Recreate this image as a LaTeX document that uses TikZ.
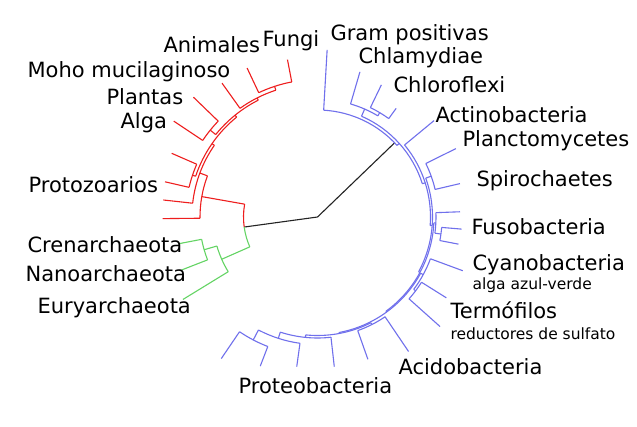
\documentclass[tikz,border=0pt]{standalone}
\usepackage{fontspec}
\setmainfont{DejaVu Sans}
\definecolor{tred}{RGB}{238,30,30}
\definecolor{tgreen}{RGB}{100,212,100}
\definecolor{tblue}{RGB}{112,112,236}
\definecolor{tblack}{RGB}{35,35,35}
% leaf: name, angle, base radius, tip radius
\newcommand\tleaf[4]{\coordinate (#1-b) at (#2:#3pt); \coordinate (#1) at (#2:#4pt); \draw (#1-b) -- (#1);}
% arc: angle1, angle2, radius
\newcommand\tarc[3]{\draw (#1:#3pt) arc[start angle=#1, end angle=#2, radius=#3pt];}
% stem: name, angle, inner radius, outer radius
\newcommand\tstem[4]{\coordinate (#1-s) at (#2:#3pt); \coordinate (#1) at (#2:#4pt); \draw (#1-s) -- (#1);}
\begin{document}
\begin{tikzpicture}[x=1pt,y=1pt, line width=1.1pt,
  lab/.style={anchor=base west, inner sep=0pt, font=\fontsize{21}{21}\selectfont},
  sub/.style={anchor=base west, inner sep=0pt, font=\fontsize{15.5}{15.5}\selectfont}]
\useasboundingbox (0,-426) rectangle (637,0);
\fill[white] (0,-426) rectangle (637,0);
\begin{scope}[shift={(317.5,-217)}]
  % root
  \coordinate (root) at (0,0);
  \begin{scope}[color=tblack]
    \coordinate (rootL) at (187.8:74pt);
    \coordinate (rootB) at (43.9:107pt);
    \draw (root) -- (rootL);
    \draw (root) -- (rootB);
  \end{scope}
  % eukaryotes (red)
  \begin{scope}[color=tred]
    \tarc{170}{187.8}{74}
    \tstem{E}{170}{74}{117.5}
    \tarc{159.5}{180.6}{117.5}
    \tleaf{d}{180.6}{117.5}{154.8}
    \tstem{E2}{159.5}{117.5}{125.6}
    \tarc{145.2}{173.7}{125.6}
    \tleaf{c}{173.7}{125.6}{155.1}
    \tstem{E3}{145.2}{125.6}{128.5}
    \tarc{129}{161.5}{128.5}
    \tstem{AB}{161.5}{128.5}{131.8}
    \tarc{156.4}{167}{131.8}
    \tleaf{a}{156.4}{131.8}{159.1}
    \tleaf{b}{167}{131.8}{156.5}
    \tstem{U}{129}{128.5}{131}
    \tarc{116.9}{141}{131}
    \tstem{PA}{141}{131}{138}
    \tarc{136}{146.3}{138}
    \tleaf{plantas}{136}{138}{172.5}
    \tleaf{alga}{146.3}{138}{172.8}
    \tstem{MAF}{116.9}{131}{133.5}
    \tarc{108.2}{125.5}{133.5}
    \tleaf{moho}{125.5}{133.5}{164.5}
    \tstem{AF}{108.2}{133.5}{137.5}
    \tarc{100.8}{115.3}{137.5}
    \tleaf{animales}{115.3}{137.5}{164.8}
    \tleaf{fungi}{100.8}{137.5}{160.2}
  \end{scope}
  % archaea (green)
  \begin{scope}[color=tgreen]
    \tarc{187.8}{203.8}{74}
    \tstem{A}{203.8}{74}{104.7}
    \tarc{196.1}{211.5}{104.7}
    \tleaf{eury}{211.5}{104.7}{157.8}
    \tstem{CN}{196.1}{104.7}{118}
    \tarc{190.9}{201.3}{118}
    \tleaf{cren}{190.9}{118}{141.5}
    \tleaf{nano}{201.3}{118}{145.8}
  \end{scope}
  % bacteria (blue)
  \begin{scope}[color=tblue]
    \tarc{42}{86.7}{107}
    \tleaf{gram}{86.7}{107}{167.5}
    \tstem{N1}{42}{107}{110}
    \tarc{17.6}{66.4}{110}
    \tstem{Y}{66.4}{110}{117.8}
    \tarc{59.2}{73.7}{117.8}
    \tleaf{chlam}{73.7}{117.8}{151.2}
    \tstem{X}{59.2}{117.8}{121.5}
    \tarc{54.1}{64.2}{121.5}
    \tleaf{chloro}{64.2}{121.5}{146.8}
    \tleaf{chloroB}{54.1}{121.5}{134.1}
    \tstem{N2}{17.6}{110}{113}
    \tarc{-4.35}{39.6}{113}
    \tleaf{actino}{39.6}{113}{151.3}
    \tstem{N3}{-4.35}{113}{115}
    \tarc{-28.45}{19.75}{115}
    \tstem{PS}{19.75}{115}{120.8}
    \tarc{13.2}{26.3}{120.8}
    \tleaf{planct}{26.3}{120.8}{154.4}
    \tleaf{spiro}{13.2}{120.8}{146.3}
    \tstem{N4}{-28.45}{115}{116.5}
    \tarc{-54}{-2.9}{116.5}
    \tstem{F}{-2.9}{116.5}{118.5}
    \tarc{-7.85}{2.1}{118.5}
    \tleaf{fusoA}{2.1}{118.5}{142.6}
    \tstem{F2}{-7.85}{118.5}{124.6}
    \tarc{-10.9}{-4.8}{124.6}
    \tleaf{fusoB}{-4.8}{124.6}{144.7}
    \tleaf{fusoC}{-10.9}{124.6}{143.6}
    \tstem{N5}{-54}{116.5}{117.5}
    \tarc{-79.5}{-28.6}{117.5}
    \tstem{CT}{-28.6}{117.5}{120.4}
    \tarc{-36.95}{-20.3}{120.4}
    \tleaf{cyano}{-20.3}{120.4}{154.9}
    \tstem{T}{-36.95}{120.4}{122.8}
    \tarc{-41.8}{-32.1}{122.8}
    \tleaf{termA}{-32.1}{122.8}{152.1}
    \tleaf{termB}{-41.8}{122.8}{164.4}
    \tstem{N6}{-79.5}{117.5}{118.5}
    \tarc{-95.75}{-63.2}{118.5}
    \tstem{AC}{-63.2}{118.5}{120.5}
    \tarc{-70.5}{-55.9}{120.5}
    \tleaf{acidA}{-55.9}{120.5}{162.4}
    \tleaf{acidB}{-70.5}{120.5}{151}
    \tstem{P}{-95.75}{118.5}{121}
    \tarc{-107.9}{-83.6}{121}
    \tleaf{protA}{-83.6}{121}{150.5}
    \tstem{P2}{-107.9}{121}{127.5}
    \tarc{-117.6}{-97.9}{127.5}
    \tleaf{protB}{-97.9}{127.5}{151.1}
    \tstem{P1}{-117.6}{127.5}{138.7}
    \tarc{-124.2}{-111}{138.7}
    \tleaf{protC}{-111}{138.7}{159.7}
    \tleaf{protD}{-124.2}{138.7}{171.2}
  \end{scope}
\end{scope}
% labels
\node[lab] (lAnimales) at (163,-52) {Animales};
\node[lab] (lFungi) at (262,-46) {Fungi};
\node[lab] (lMoho) at (27,-77) {Moho mucilaginoso};
\node[lab] (lPlantas) at (106,-104) {Plantas};
\node[lab] (lAlga) at (120,-128) {Alga};
\node[lab] (lProto) at (28,-192) {Protozoarios};
\node[lab] (lCren) at (27,-252) {Crenarchaeota};
\node[lab] (lNano) at (25,-281) {Nanoarchaeota};
\node[lab] (lEury) at (37,-313) {Euryarchaeota};
\node[lab] (lGram) at (330,-40) {Gram positivas};
\node[lab] (lChlam) at (358,-63) {Chlamydiae};
\node[lab] (lChloro) at (393,-92) {Chloroflexi};
\node[lab] (lActino) at (435,-122) {Actinobacteria};
\node[lab] (lPlanct) at (462,-146) {Planctomycetes};
\node[lab] (lSpiro) at (476,-186) {Spirochaetes};
\node[lab] (lFuso) at (471,-234) {Fusobacteria};
\node[lab] (lCyano) at (472,-270) {Cyanobacteria};
\node[sub] (lAlgaAz) at (472,-289) {alga azul-verde};
\node[lab] (lTermo) at (450,-318) {Termófilos};
\node[sub] (lRed) at (450,-339) {reductores de sulfato};
\node[lab] (lAcido) at (398,-374) {Acidobacteria};
\node[lab] (lProteo) at (238,-393) {Proteobacteria};
\end{tikzpicture}
\end{document}
